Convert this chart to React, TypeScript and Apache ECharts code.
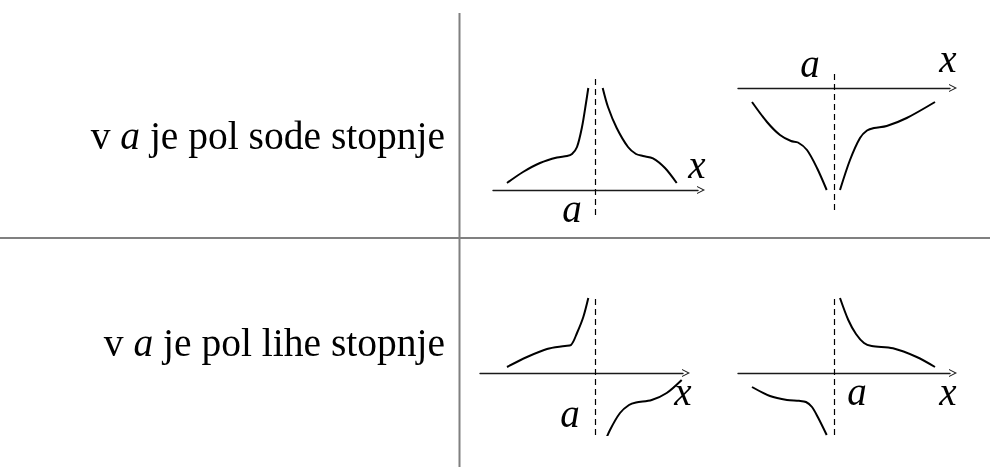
import React, { useEffect, useRef } from "react";
import * as echarts from "echarts";

// Row captions: kind of pole at a
const poleDegrees = ["sode", "lihe"];

// Curve samples, x measured from the pole a, y measured from the x axis (1 unit = 1px)
// even pole, both branches going to +infinity
const evenUpLeft: [number, number][] = [
  [-88, 7], [-72, 18], [-55, 27], [-38, 32.5], [-28, 34], [-23, 36], [-18, 43], [-13, 63], [-9, 87], [-6.7, 102],
];
const evenUpRight: [number, number][] = [
  [7.7, 102], [13, 83], [21.7, 62], [33, 43], [41, 36], [48, 34], [58, 31.7], [70, 22], [81.7, 7],
];
// even pole, both branches going to -infinity
const evenDownLeft: [number, number][] = [
  [-82, -14], [-67, -34], [-54, -47], [-43, -53], [-36, -54.5], [-27, -62], [-17, -80], [-7.3, -102],
];
const evenDownRight: [number, number][] = [
  [6, -102], [16, -72], [26, -50], [33, -42.5], [40, -40], [52.7, -38], [72.7, -30], [101, -14],
];
// odd pole, left branch to +infinity, right branch from -infinity
const oddUpLeft: [number, number][] = [
  [-88, 6], [-68, 16], [-48, 24], [-30, 27], [-24, 28], [-18, 40], [-11.7, 56], [-6.7, 75],
];
const oddUpRight: [number, number][] = [
  [7.7, -74], [15, -57], [25, -40], [34, -32], [41, -29.5], [56.7, -27], [71.7, -20], [86.7, -7],
];
// odd pole, left branch to -infinity, right branch from +infinity
const oddDownLeft: [number, number][] = [
  [-82, -14], [-64, -23], [-47, -27], [-35, -27.8], [-28, -29], [-22, -34], [-15.7, -45], [-7.3, -62],
];
const oddDownRight: [number, number][] = [
  [6, 75], [14.3, 53], [22, 39], [30, 30], [37.7, 27], [59, 24.7], [82.7, 16], [101, 6],
];

const panels = [
  { cx: 595, cy: 190, xMin: -102, xMax: 103, yMin: -25, yMax: 115, left: evenUpLeft, right: evenUpRight, a: [572, 212], x: [697, 168] },
  { cx: 834, cy: 88, xMin: -96, xMax: 116, yMin: -122, yMax: 15, left: evenDownLeft, right: evenDownRight, a: [810, 67], x: [948, 62] },
  { cx: 595, cy: 373, xMin: -115, xMax: 88, yMin: -62, yMax: 75, left: oddUpLeft, right: oddUpRight, a: [570, 417], x: [683, 395] },
  { cx: 834, cy: 373, xMin: -96, xMax: 116, yMin: -62, yMax: 75, left: oddDownLeft, right: oddDownRight, a: [857, 395], x: [948, 395] },
];

const FAMILY = "Liberation Serif";
const CAPTION_SIZE = 39.5;
const LABEL_SIZE = 39;
const ARROW = "path://M5,0 L10,10 L8.6,10 L5,2.8 L1.4,10 L0,10 Z";

function measure(text: string, italic: boolean, size: number): number {
  const ctx = document.createElement("canvas").getContext("2d");
  if (!ctx) return text.length * size * 0.42;
  ctx.font = `${italic ? "italic " : ""}${size}px "${FAMILY}"`;
  return ctx.measureText(text).width;
}

export default function App() {
  const ref = useRef<HTMLDivElement>(null);

  useEffect(() => {
    if (!ref.current) return;
    const chart = echarts.init(ref.current, null, { renderer: "svg" });

    const grid = panels.map((p) => ({
      left: p.cx + p.xMin,
      top: p.cy - p.yMax,
      width: p.xMax - p.xMin,
      height: p.yMax - p.yMin,
    }));

    const xAxis = panels.map((p, i) => ({
      type: "value",
      gridIndex: i,
      min: p.xMin,
      max: p.xMax,
      axisLine: {
        show: true,
        onZero: true,
        symbol: ["none", ARROW],
        symbolSize: [11, 8],
        symbolOffset: [0, 3],
        lineStyle: { color: "#1a1a1a", width: 1.4 },
      },
      axisTick: { show: false },
      axisLabel: { show: false },
      splitLine: { show: false },
    }));

    const yAxis = panels.map((p, i) => ({
      type: "value",
      gridIndex: i,
      min: p.yMin,
      max: p.yMax,
      axisLine: { show: false },
      axisTick: { show: false },
      axisLabel: { show: false },
      splitLine: { show: false },
    }));

    const series: any[] = [];
    panels.forEach((p, i) => {
      [p.left, p.right].forEach((data, k) => {
        series.push({
          type: "line",
          xAxisIndex: i,
          yAxisIndex: i,
          data,
          smooth: 0.3,
          showSymbol: false,
          lineStyle: { color: "#000", width: 2 },
          z: 3,
          markLine:
            k === 0
              ? {
                  silent: true,
                  symbol: ["none", "none"],
                  label: { show: false },
                  lineStyle: { color: "#000", width: 1.2, type: [6, 4] },
                  data: [[{ coord: [0, p.yMin] }, { coord: [0, p.yMax] }]],
                }
              : undefined,
        });
      });
    });

    const text = (x: number, y: number, t: string, size: number, italic: boolean, align: string, vAlign: string) => ({
      type: "text",
      x,
      y,
      style: {
        text: t,
        fill: "#000",
        fontFamily: FAMILY,
        fontSize: size,
        ...(italic ? { fontStyle: "italic" } : {}),
        align,
        verticalAlign: vAlign,
      },
    });

    const graphic: any[] = [];

    // Row captions, right-aligned against the vertical rule: "v " + italic "a" + rest
    const rightEdge = 445;
    poleDegrees.forEach((deg, r) => {
      const y = r === 0 ? 156 : 363;
      const tail = ` je pol ${deg} stopnje`;
      const wTail = measure(tail, false, CAPTION_SIZE);
      const wA = measure("a", true, CAPTION_SIZE);
      graphic.push(text(rightEdge, y, tail, CAPTION_SIZE, false, "right", "bottom"));
      graphic.push(text(rightEdge - wTail, y, "a", CAPTION_SIZE, true, "right", "bottom"));
      graphic.push(text(rightEdge - wTail - wA, y, "v ", CAPTION_SIZE, false, "right", "bottom"));
    });

    // Axis labels in each panel
    panels.forEach((p) => {
      graphic.push(text(p.a[0], p.a[1] - 4, "a", LABEL_SIZE, true, "center", "middle"));
      graphic.push(text(p.x[0], p.x[1] - 4, "x", LABEL_SIZE, true, "center", "middle"));
    });

    // Table rules
    graphic.push({ type: "line", shape: { x1: 459.5, y1: 13, x2: 459.5, y2: 467 }, style: { stroke: "#808080", lineWidth: 2 } });
    graphic.push({ type: "line", shape: { x1: 0, y1: 238, x2: 990, y2: 238 }, style: { stroke: "#808080", lineWidth: 2 } });

    chart.setOption({
      animation: false,
      grid,
      xAxis,
      yAxis,
      series,
      graphic,
    });

    return () => chart.dispose();
  }, []);

  return (
    <div
      ref={ref}
      style={{ position: "fixed", left: 0, top: 0, width: 990, height: 467 }}
    />
  );
}
